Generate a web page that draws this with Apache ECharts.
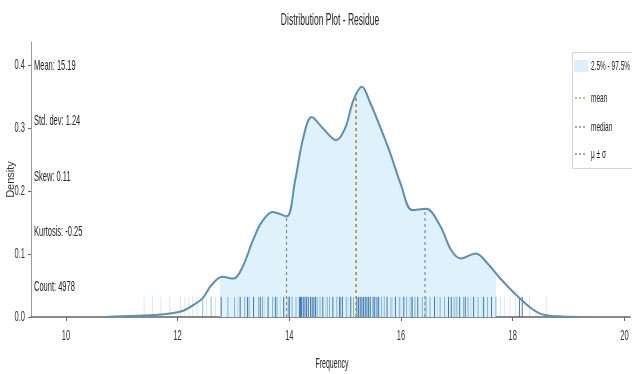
<!DOCTYPE html>
<html>
<head>
<meta charset="utf-8">
<script src="https://cdn.jsdelivr.net/npm/echarts@6/dist/echarts.min.js"></script>
<style>
  html, body { margin: 0; padding: 0; background: #fff; }
  #main { width: 632px; height: 374px; }
</style>
</head>
<body>
<div id="main"></div>
<script>
// KDE curve
var kdeX = [10.7, 11.0, 11.3, 11.6, 11.9, 12.1, 12.3, 12.45, 12.6, 12.8, 13.0, 13.15, 13.35, 13.5, 13.7, 13.95, 14.1, 14.25, 14.4, 14.6, 14.84, 15.0, 15.15, 15.3, 15.45, 15.6, 15.8, 16.0, 16.2, 16.45, 16.7, 16.9, 17.07, 17.34, 17.55, 17.75, 17.95, 18.1, 18.3, 18.5, 18.8, 19.2];
var kdeY = [0.0, 0.001, 0.002, 0.003, 0.006, 0.010, 0.020, 0.030, 0.050, 0.064, 0.061, 0.077, 0.122, 0.150, 0.167, 0.160, 0.215, 0.285, 0.318, 0.300, 0.281, 0.300, 0.345, 0.366, 0.340, 0.308, 0.262, 0.210, 0.170, 0.172, 0.145, 0.106, 0.093, 0.101, 0.085, 0.064, 0.045, 0.032, 0.016, 0.005, 0.001, 0.0];

// rug marks, grouped by how dark they look
var rugDark = [12.78, 13.12, 13.25, 13.36, 13.48, 13.62, 13.75, 13.9, 14.0, 14.18, 14.2, 14.22, 14.25, 14.28, 14.31, 14.34, 14.38, 14.41, 14.44, 14.47, 14.6, 14.78, 14.9, 14.95, 15.1, 15.21, 15.24, 15.27, 15.3, 15.33, 15.36, 15.39, 15.42, 15.45, 15.5, 15.53, 15.57, 15.6, 15.75, 15.9, 16.05, 16.2, 16.3, 16.6, 16.85, 16.9, 17.05, 17.15, 17.3, 17.48, 17.62, 18.12, 18.17];
var rugMid = [12.45, 12.6, 12.9, 13.02, 13.2, 13.28, 13.45, 13.52, 13.7, 13.78, 13.98, 14.05, 14.12, 14.5, 14.55, 14.68, 14.72, 14.85, 14.92, 15.02, 15.15, 15.65, 15.7, 15.82, 15.97, 16.1, 16.18, 16.25, 16.38, 16.45, 16.52, 16.7, 16.78, 16.95, 17.0, 17.12, 17.2, 17.38, 17.55, 17.7];
var rugLight = [11.4, 11.55, 11.7, 11.86, 12.05, 12.13, 12.2, 12.27, 12.35, 12.52, 12.68, 13.08, 13.55, 13.84, 14.65, 15.05, 15.85, 16.0, 16.15, 16.42, 16.65, 16.98, 17.25, 17.45, 17.78, 17.85, 17.95, 18.05, 18.3, 18.6];
var rugHeight = 0.032;

var band = [12.76, 17.7];           // 2.5% - 97.5%
var mean = 15.19, median = 15.2, std = 1.24;
var meanTop = 0.352, lowTop = 0.160, highTop = 0.172;

var xMin = 9.375, xMax = 20.1, yMax = 0.437;
var xTicks = [10, 12, 14, 16, 18, 20];
var yTicks = [0.0, 0.1, 0.2, 0.3, 0.4];
var statLabels = ['Mean: 15.19', 'Std. dev: 1.24', 'Skew: 0.11', 'Kurtosis: -0.25', 'Count: 4978'];
var legendLabels = ['2.5% - 97.5%', 'mean', 'median', 'μ ± σ'];

var FONT = "'Liberation Sans', Arial, sans-serif";
var SQ = 0.5;   // the picture's text is very narrow
var FILL = '#dff1fb', MEAN_C = '#c9a03c', GREY = '#8a8a8a';

var kde = kdeX.map(function (x, i) { return [x, kdeY[i]]; });

function rugSeries(values, color) {
    return {
        type: 'custom',
        silent: true,
        z: 3,
        data: values.map(function (v) { return [v, 0]; }),
        renderItem: function (params, api) {
            var p0 = api.coord([api.value(0), 0]);
            var p1 = api.coord([api.value(0), rugHeight]);
            return {
                type: 'line',
                shape: { x1: p0[0], y1: p0[1], x2: p1[0], y2: p1[1] },
                style: { stroke: color, lineWidth: 1 }
            };
        }
    };
}

// narrow tick labels placed through the axes
function tickLabels(values, isX) {
    return {
        type: 'custom',
        silent: true,
        clip: false,
        z: 10,
        data: values.map(function (v) { return isX ? [v, 0] : [xMin, v]; }),
        renderItem: function (params, api) {
            var p = api.coord([api.value(0), api.value(1)]);
            var txt = isX ? String(api.value(0)) : api.value(1).toFixed(1);
            return {
                type: 'text',
                x: isX ? p[0] : p[0] - 6,
                y: isX ? p[1] + 19 : p[1],
                scaleX: SQ,
                style: {
                    text: txt, font: '15px ' + FONT, fill: '#333',
                    align: isX ? 'center' : 'right', verticalAlign: 'middle'
                }
            };
        }
    };
}

function vline(name, x, top, color) {
    return {
        name: name,
        type: 'line',
        z: 5,
        symbol: 'none',
        data: [[x, 0], [x, top]],
        lineStyle: { color: color, width: 1.2, type: [3, 3] }
    };
}

function narrowText(t, x, y, size, align) {
    return {
        type: 'text', x: x, y: y, scaleX: SQ, z: 20,
        style: { text: t, font: size + 'px ' + FONT, fill: '#222', align: align || 'left', verticalAlign: 'middle' }
    };
}

var legendRowY = [14, 46, 75, 102];
var legendMarks = [
    { type: 'rect', shape: { x: 2, y: 8, width: 14, height: 12 }, style: { fill: '#dcefFa' } },
    { type: 'line', shape: { x1: 3, y1: 46, x2: 15, y2: 46 }, style: { stroke: MEAN_C, lineWidth: 1.5, lineDash: [2, 2] } },
    { type: 'line', shape: { x1: 3, y1: 75, x2: 15, y2: 75 }, style: { stroke: GREY, lineWidth: 1.5, lineDash: [2, 2] } },
    { type: 'line', shape: { x1: 3, y1: 102, x2: 15, y2: 102 }, style: { stroke: GREY, lineWidth: 1.5, lineDash: [2, 2] } }
];

var graphics = [
    narrowText('Distribution Plot - Residue', 330, 20, 17, 'center'),
    narrowText('Frequency', 332, 364, 14, 'center'),
    {
        type: 'group', x: 572, y: 52, z: 20,
        children: [
            { type: 'rect', shape: { x: 0.5, y: 0.5, width: 80, height: 116 }, style: { fill: '#fff', stroke: '#d5d5d5', lineWidth: 1 } }
        ].concat(legendMarks).concat(legendLabels.map(function (t, i) {
            return narrowText(t, 19, legendRowY[i], 13);
        }))
    }
].concat(statLabels.map(function (t, i) {
    return narrowText(t, 34, 66 + i * 55.2, 15);
}));

var chart = echarts.init(document.getElementById('main'));
chart.setOption({
    animation: false,
    textStyle: { fontFamily: FONT },
    grid: { left: 31, right: 2, top: 42, bottom: 57, outerBoundsMode: 'none', containLabel: false },
    visualMap: {
        show: false,
        type: 'piecewise',
        dimension: 0,
        seriesIndex: 0,
        pieces: [{ gt: band[0], lte: band[1], color: FILL }],
        outOfRange: { color: 'rgba(255,255,255,0)' }
    },
    xAxis: {
        type: 'value',
        min: xMin,
        max: xMax,
        axisLine: { lineStyle: { color: '#888', width: 2 } },
        axisTick: { customValues: xTicks, length: 4, lineStyle: { color: '#666' } },
        axisLabel: { show: false },
        splitLine: { show: false }
    },
    yAxis: {
        type: 'value',
        min: 0,
        max: yMax,
        name: 'Density',
        nameLocation: 'middle',
        nameGap: 15,
        nameTextStyle: { fontFamily: FONT, fontSize: 11, color: '#333' },
        axisLine: { show: true, lineStyle: { color: '#999', width: 1 } },
        axisTick: { show: true, customValues: yTicks, length: 3, lineStyle: { color: '#666' } },
        axisLabel: { show: false },
        splitLine: { show: false }
    },
    graphic: graphics,
    series: [
        {
            name: '2.5% - 97.5%',
            type: 'line',
            z: 1,
            smooth: 0.35,
            symbol: 'none',
            data: kde,
            lineStyle: { width: 0 },
            areaStyle: { opacity: 1 }
        },
        rugSeries(rugLight, 'rgba(31,119,180,0.18)'),
        rugSeries(rugMid, 'rgba(31,119,180,0.5)'),
        rugSeries(rugDark, 'rgba(31,100,160,0.85)'),
        {
            name: 'kde',
            type: 'line',
            z: 6,
            smooth: 0.35,
            symbol: 'none',
            data: kde,
            lineStyle: { color: '#5b8fb3', width: 2 }
        },
        vline('median', median, meanTop, GREY),
        vline('mean', mean, meanTop, MEAN_C),
        vline('μ ± σ', mean - std, lowTop, GREY),
        vline('μ ± σ', mean + std, highTop, GREY),
        tickLabels(xTicks, true),
        tickLabels(yTicks, false)
    ]
});
</script>
</body>
</html>
